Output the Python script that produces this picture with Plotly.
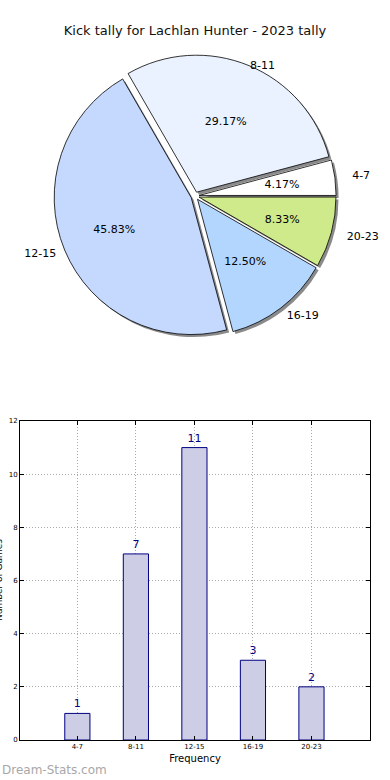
import plotly.graph_objects as go

# ---- data ----
categories = ["4-7", "8-11", "12-15", "16-19", "20-23"]
counts = [1, 7, 11, 3, 2]
pie_colors = ["#FFFFFF", "#EBF2FF", "#C5D9FF", "#B3D6FF", "#CFEA8A"]
title_text = "Kick tally for Lachlan Hunter - 2023 tally"
y_title = "Number of Games"
x_title = "Frequency"
watermark = "Dream-Stats.com"
y_ticks = [0, 2, 4, 6, 8, 10, 12]

W, H = 390, 780
ML, MR, MT, MB = 20, 20, 0, 40
PW, PH = W - ML - MR, H - MT - MB


def fx(px):
    return (px - ML) / PW


def fy(py):
    return (H - MB - py) / PH


pull = [0.03] * len(categories)
R = 137
cx, cy = 195, 196


def dom(scale, dx=0.0, dy=0.0):
    h = R * scale * (1 + max(pull))
    return dict(x=[fx(cx - h + dx), fx(cx + h + dx)],
                y=[fy(cy + h + dy), fy(cy - h + dy)])


ROT = 90 - 360 * counts[0] / sum(counts)
PCT = "%{percent:.2%}"
# radial layers (relative pie size) on which each text is laid out
pct_layer = [0.7, 1.0, 1.2, 0.8, 0.8]
lbl_layer = [1.1, 0.96, 1.04, 1.03, 1.09]

pie_common = dict(labels=categories, values=counts, sort=False,
                  direction="counterclockwise", rotation=ROT, pull=pull,
                  showlegend=False)
txt_font = dict(family="DejaVu Sans", size=11, color="#000000")
clear = ["rgba(0,0,0,0)"] * len(categories)

fig = go.Figure()

# shadow pie
fig.add_trace(go.Pie(
    **pie_common, domain=dom(1.0, 2.5, 2.5),
    marker=dict(colors=["#8A8A8A"] * len(categories), line=dict(width=0)),
    textinfo="none", hoverinfo="skip",
))
# main pie
fig.add_trace(go.Pie(
    **pie_common, domain=dom(1.0),
    marker=dict(colors=pie_colors, line=dict(color="#000000", width=0.8)),
    textinfo="none",
))
# percentage labels, one transparent layer per radial scale
for s in sorted(set(pct_layer)):
    fig.add_trace(go.Pie(
        **pie_common, domain=dom(s),
        marker=dict(colors=clear, line=dict(width=0)),
        texttemplate=[PCT if p == s else "" for p in pct_layer],
        textposition="inside", insidetextorientation="horizontal",
        textfont=txt_font, hoverinfo="skip",
    ))
# outside category labels
for s in sorted(set(lbl_layer)):
    fig.add_trace(go.Pie(
        **pie_common, domain=dom(s),
        marker=dict(colors=clear, line=dict(width=0)),
        texttemplate=["%{label}" if p == s else "" for p in lbl_layer],
        textposition="outside", textfont=txt_font, hoverinfo="skip",
    ))

# bar chart
fig.add_trace(go.Bar(
    x=categories, y=counts, width=0.43,
    marker=dict(color="#CDCDE6", line=dict(color="#000080", width=1)),
    text=[str(c) for c in counts], textposition="outside",
    textfont=dict(family="DejaVu Sans", size=11, color="#000080"),
    cliponaxis=False, showlegend=False,
))

axis_common = dict(
    showline=True, linecolor="#000000", linewidth=1, mirror="ticks",
    ticks="inside", ticklen=4, tickcolor="#000000",
    showgrid=True, gridcolor="#AAAAAA", griddash="1px,2px", gridwidth=1,
    zeroline=False, automargin=False,
    tickfont=dict(family="DejaVu Sans", size=7, color="#000000"),
)

fig.update_layout(
    width=W, height=H, autosize=False,
    margin=dict(l=ML, r=MR, t=MT, b=MB, autoexpand=False),
    paper_bgcolor="#FFFFFF", plot_bgcolor="#FFFFFF",
    title=dict(text=title_text, x=0.5, xref="container", xanchor="center",
               y=1 - 30 / H, yref="container", yanchor="middle",
               font=dict(family="DejaVu Sans", size=13, color="#111111")),
    xaxis=dict(domain=[0, 1], range=[-0.98, 5.0], **axis_common,
               title=dict(text=x_title, standoff=4,
                          font=dict(family="DejaVu Sans", size=10, color="#000000"))),
    yaxis=dict(domain=[0, fy(421)], range=[0, 12], tickvals=y_ticks, **axis_common),
    uniformtext=dict(minsize=11, mode="show"),
    annotations=[
        dict(text=watermark, xref="paper", yref="paper",
             x=fx(0), y=fy(770), xanchor="left", yanchor="middle", showarrow=False,
             font=dict(family="DejaVu Sans", size=12, color="#A8A8A8")),
        dict(text=y_title, textangle=-90, xref="paper", yref="paper",
             x=fx(-1), y=fy(580), xanchor="center", yanchor="middle", showarrow=False,
             font=dict(family="DejaVu Sans", size=9, color="#000000")),
    ],
)

fig.write_html("out.html", config={"displayModeBar": False},
               post_script="document.body.style.margin='0px';")
